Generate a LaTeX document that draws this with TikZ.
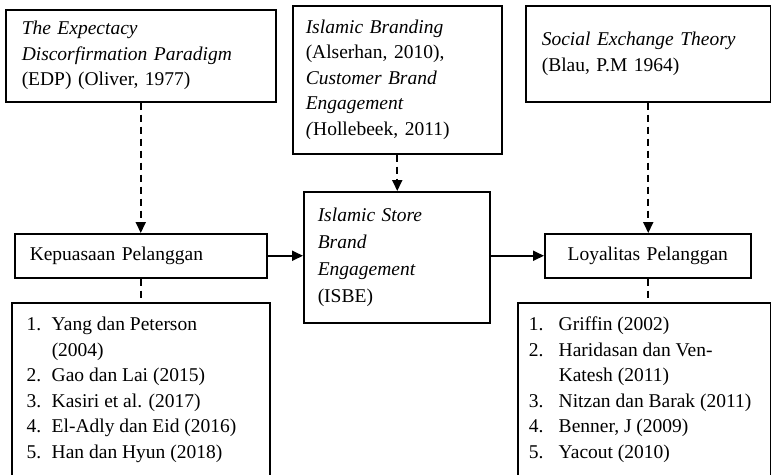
\documentclass[tikz,border=0pt]{standalone}
\usepackage{fontspec}
\setmainfont{Liberation Serif}
\usetikzlibrary{arrows.meta}
\newcommand{\txtsize}{\fontsize{19.5}{25.5}\selectfont}
\newcommand{\litem}[2]{\hspace*{15pt}\makebox[25pt][l]{#1}#2}
\newcommand{\ritem}[2]{\hspace*{11pt}\makebox[30pt][l]{#1}#2}
\tikzset{
  box/.style={draw, line width=1.5pt, inner ysep=0pt, anchor=north west, align=left, font=\txtsize},
  listbox/.style={draw, line width=1.5pt, inner sep=0pt, anchor=north west},
  dashline/.style={line width=1.8pt, dash pattern=on 7pt off 5pt},
  solidline/.style={line width=1.8pt},
  arr/.style={-{Triangle[length=11pt,width=10pt]}}
}
\begin{document}
\begin{tikzpicture}[x=1pt,y=-1pt]
\useasboundingbox (0,0) rectangle (771,474);
\node[box, minimum width=270pt, minimum height=92pt, inner xsep=16pt, text width=238pt] (edp) at (5,9)
  {\textit{The Expectacy}\\ \textit{Discorfirmation Paradigm}\\ (EDP) (Oliver, 1977)};
\node[box, minimum width=209pt, minimum height=148pt, inner xsep=13pt, text width=183pt] (ib) at (292,5)
  {\textit{Islamic Branding}\\ (Alserhan, 2010),\\ \textit{Customer Brand}\\ \textit{Engagement}\\ \textit{(}Hollebeek, 2011)};
\node[box, minimum width=245pt, minimum height=96pt, inner xsep=16pt, text width=213pt] (set) at (525,5)
  {\textit{Social Exchange Theory}\\ (Blau, P.M 1964)};
\node[box, minimum width=252pt, minimum height=44pt, inner xsep=15pt, text width=222pt] (kep) at (14,233)
  {Kepuasaan Pelanggan};
\node[box, minimum width=186pt, minimum height=131pt, inner xsep=14pt, text width=158pt, font=\fontsize{19.5}{27}\selectfont] (isbe) at (303,191)
  {\textit{Islamic Store}\\ \textit{Brand}\\ \textit{Engagement}\\ (ISBE)};
\node[box, minimum width=206pt, minimum height=44pt, inner xsep=10pt, text width=186pt, align=center] (loy) at (544,233)
  {Loyalitas Pelanggan};
\node[listbox] (llist) at (11,302) {\parbox[t][200pt][t]{258pt}{\txtsize\raggedright
  \litem{1.}{Yang dan Peterson}\rule{0pt}{28pt}\\
  \litem{}{(2004)}\\
  \litem{2.}{Gao dan Lai (2015)}\\
  \litem{3.}{Kasiri et al. (2017)}\\
  \litem{4.}{El-Adly dan Eid (2016)}\\
  \litem{5.}{Han dan Hyun (2018)}}};
\node[listbox] (rlist) at (517,302) {\parbox[t][200pt][t]{253pt}{\txtsize\raggedright
  \ritem{1.}{Griffin (2002)}\rule{0pt}{28pt}\\
  \ritem{2.}{Haridasan dan Ven-}\\
  \ritem{}{Katesh (2011)}\\
  \ritem{3.}{Nitzan dan Barak (2011)}\\
  \ritem{4.}{Benner, J (2009)}\\
  \ritem{5.}{Yacout (2010)}}};
\draw[dashline, arr] (edp.south) -- (edp.south |- kep.north);
\draw[dashline, arr] (ib.south) -- (ib.south |- isbe.north);
\draw[dashline, arr] (set.south) -- (set.south |- loy.north);
\draw[dashline] (kep.south) -- (kep.south |- llist.north);
\draw[dashline] (loy.south) -- (loy.south |- rlist.north);
\draw[solidline, arr] (kep.east) -- (kep.east -| isbe.west);
\draw[solidline, arr] (kep.east -| isbe.east) -- (loy.west);
\end{tikzpicture}
\end{document}
